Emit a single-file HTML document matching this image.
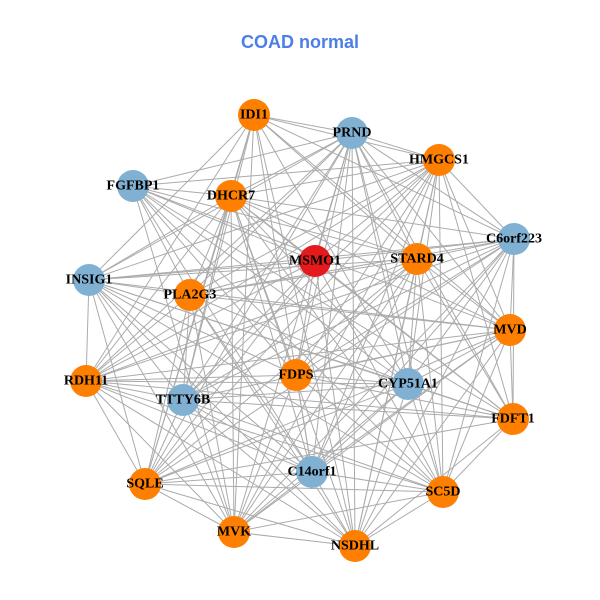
<!DOCTYPE html>
<html><head><meta charset="utf-8"><style>
html,body{margin:0;padding:0;background:#fff;}
svg{display:block;}
text.l{font-family:"Liberation Serif",serif;font-weight:bold;font-size:14px;fill:#000;text-anchor:middle;dominant-baseline:central;}
</style></head><body>
<svg id="s" width="600" height="600" viewBox="0 0 600 600">
<rect width="600" height="600" fill="#fff"/>
<text x="300" y="42" font-family="Liberation Sans,sans-serif" font-weight="bold" font-size="18" fill="#4b7ee8" text-anchor="middle" dominant-baseline="central">COAD normal</text>
<g id="e" stroke="#ababab" stroke-width="1"></g>
<g id="n"></g>
<g>
<text class="l" x="254" y="115">IDI1</text>
<text class="l" x="352" y="133">PRND</text>
<text class="l" x="439" y="160">HMGCS1</text>
<text class="l" x="133" y="186">FGFBP1</text>
<text class="l" x="231" y="196">DHCR7</text>
<text class="l" x="514" y="239">C6orf223</text>
<text class="l" x="315" y="261">MSMO1</text>
<text class="l" x="417" y="259">STARD4</text>
<text class="l" x="89" y="280">INSIG1</text>
<text class="l" x="190" y="295">PLA2G3</text>
<text class="l" x="510" y="330">MVD</text>
<text class="l" x="86" y="381">RDH11</text>
<text class="l" x="296" y="375">FDPS</text>
<text class="l" x="408" y="384">CYP51A1</text>
<text class="l" x="183" y="400">TTTY6B</text>
<text class="l" x="513" y="419">FDFT1</text>
<text class="l" x="312" y="472">C14orf1</text>
<text class="l" x="145" y="484">SQLE</text>
<text class="l" x="443" y="492">SC5D</text>
<text class="l" x="234" y="532">MVK</text>
<text class="l" x="355" y="546">NSDHL</text>
</g>
</svg>
<script>
var N=[[254,115,"o"],[352,133,"b"],[439,160,"o"],[133,186,"b"],[231,196,"o"],[514,239,"b"],[315,261,"r"],[417,259,"o"],[89,280,"b"],[190,295,"o"],[510,330,"o"],[86,381,"o"],[296,375,"o"],[408,384,"b"],[183,400,"b"],[513,419,"o"],[312,472,"b"],[145,484,"o"],[443,492,"o"],[234,532,"o"],[355,546,"o"]];
var C={o:"#ff7f00",b:"#80b1d3",r:"#e41a1c"};
var ns="http://www.w3.org/2000/svg",e=document.getElementById("e"),n=document.getElementById("n");
for(var i=0;i<N.length;i++)for(var j=i+1;j<N.length;j++){
 if((i*7+j*3)%9==0)continue;
 var l=document.createElementNS(ns,"line");
 l.setAttribute("x1",N[i][0]);l.setAttribute("y1",N[i][1]);l.setAttribute("x2",N[j][0]);l.setAttribute("y2",N[j][1]);e.appendChild(l);}
N.forEach(function(p){var c=document.createElementNS(ns,"circle");c.setAttribute("cx",p[0]);c.setAttribute("cy",p[1]);c.setAttribute("r",16);c.setAttribute("fill",C[p[2]]);n.appendChild(c);});
</script>
</body></html>
